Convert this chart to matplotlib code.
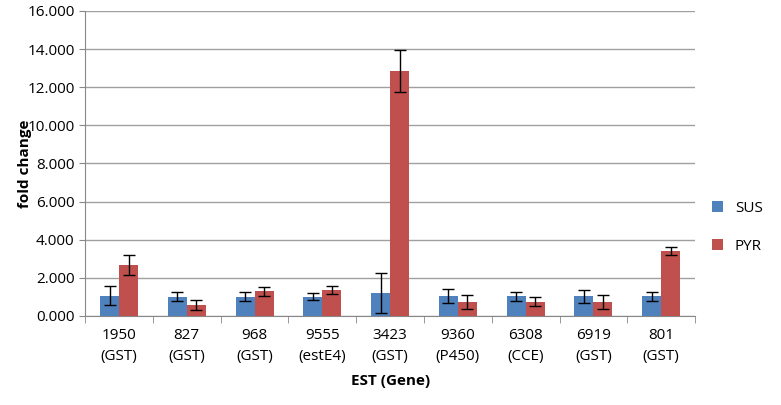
import matplotlib.pyplot as plt
import numpy as np

plt.rcParams["font.family"] = ["Open Sans", "DejaVu Sans"]

categories = ["1950\n(GST)", "827\n(GST)", "968\n(GST)", "9555\n(estE4)", "3423\n(GST)",
              "9360\n(P450)", "6308\n(CCE)", "6919\n(GST)", "801\n(GST)"]
sus = [1.06, 1.01, 1.01, 1.01, 1.20, 1.03, 1.03, 1.03, 1.03]
sus_err = [0.50, 0.22, 0.22, 0.20, 1.05, 0.37, 0.25, 0.34, 0.25]
pyr = [2.68, 0.56, 1.29, 1.35, 12.85, 0.72, 0.75, 0.72, 3.39]
pyr_err = [0.53, 0.25, 0.25, 0.22, 1.08, 0.38, 0.25, 0.36, 0.22]

fig = plt.figure(figsize=(7.81, 4.05), dpi=100)
ax = fig.add_axes([0.109, 0.22, 0.781, 0.753])

x = np.arange(len(categories))
w = 0.28
err_kw = dict(ecolor="black", capsize=4, elinewidth=1, capthick=1)
ax.bar(x - w / 2, sus, w, yerr=sus_err, color="#4F81BD", label="SUS", error_kw=err_kw, zorder=3)
ax.bar(x + w / 2, pyr, w, yerr=pyr_err, color="#C0504D", label="PYR", error_kw=err_kw, zorder=3)

ax.set_xlim(-0.5, len(categories) - 0.5)
ax.set_ylim(0, 16)
ax.set_yticks(np.arange(0, 16.1, 2))
ax.set_yticklabels([f"{v:.3f}" for v in np.arange(0, 16.1, 2)], fontsize=11)
ax.yaxis.grid(True, color="#a0a0a0", linewidth=1, zorder=0)

ax.set_xticks(x)
ax.set_xticklabels(categories, fontsize=11, linespacing=1.5)
ax.set_xticks(np.arange(-0.5, len(categories)), minor=True)
ax.tick_params(axis="x", which="major", length=0, pad=9)
ax.tick_params(axis="x", which="minor", length=5, color="#888888")
ax.tick_params(axis="y", length=4, color="#888888")

for side in ("top", "right"):
    ax.spines[side].set_visible(False)
ax.spines["left"].set_color("#888888")
ax.spines["bottom"].set_color("#888888")

ax.set_ylabel("fold change", fontsize=11, fontweight="bold", labelpad=-3)
ax.set_xlabel("EST (Gene)", fontsize=11, fontweight="bold", labelpad=7)

ax.legend(loc="center left", bbox_to_anchor=(1.005, 0.29), frameon=False, fontsize=11,
          handlelength=0.7, handleheight=0.7, labelspacing=1.5)

fig.savefig("out.png", dpi=100)
